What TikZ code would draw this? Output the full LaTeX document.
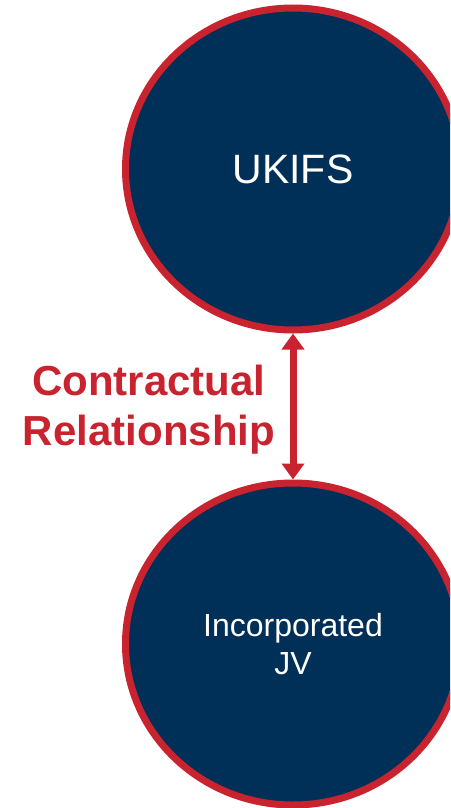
\documentclass[tikz,border=0pt]{standalone}
\usepackage{fontspec}
\setmainfont{Liberation Sans}
\usetikzlibrary{shapes.geometric,arrows.meta}
\definecolor{navy}{RGB}{0,48,87}
\definecolor{ukred}{RGB}{200,35,46}
\begin{document}
\begin{tikzpicture}[x=1pt,y=-1pt,
  bubble/.style={ellipse, draw=ukred, fill=navy, line width=7pt,
    minimum width=335pt, minimum height=322pt, inner sep=0pt,
    text=white, align=center},
  link/.style={draw=ukred, line width=7pt,
    {Triangle[width=22pt,length=16pt]}-{Triangle[width=22pt,length=16pt]}},
  lab/.style={text=ukred, align=center, font=\bfseries\fontsize{42}{50}\selectfont}]
\useasboundingbox (0,0) rectangle (450,808);
\clip (0,0) rectangle (450,808);
\node[bubble, font=\fontsize{41}{48}\selectfont] (ukifs) at (293,169) {UKIFS};
\node[bubble, font=\fontsize{32}{38}\selectfont] (jv) at (293,644) {Incorporated\\JV};
\draw[link] (ukifs.south) -- (jv.north);
\node[lab] (rel) at (149,410) {Contractual\\Relationship};
\end{tikzpicture}
\end{document}
